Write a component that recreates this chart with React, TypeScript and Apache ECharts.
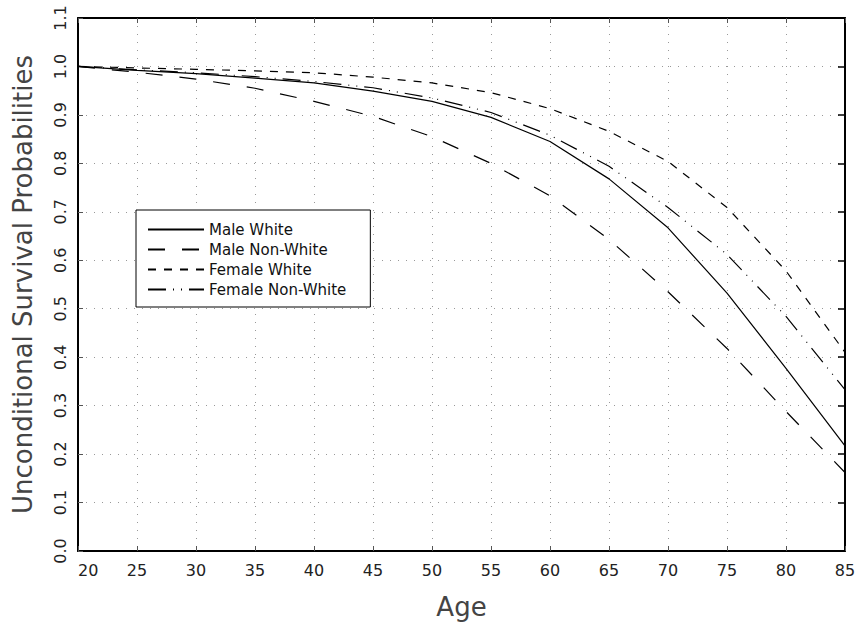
import React, { useEffect, useRef } from "react";
import * as echarts from "echarts";

const ages = [20, 25, 30, 35, 40, 45, 50, 55, 60, 65, 70, 75, 80, 85];
const maleWhite = [1.0, 0.992, 0.985, 0.976, 0.966, 0.949, 0.928, 0.895, 0.845, 0.768, 0.667, 0.532, 0.377, 0.217];
const maleNonWhite = [1.0, 0.988, 0.974, 0.955, 0.928, 0.897, 0.855, 0.8, 0.733, 0.643, 0.535, 0.418, 0.288, 0.162];
const femaleWhite = [1.0, 0.997, 0.994, 0.991, 0.987, 0.978, 0.966, 0.946, 0.913, 0.866, 0.804, 0.709, 0.578, 0.41];
const femaleNonWhite = [1.0, 0.993, 0.987, 0.979, 0.969, 0.956, 0.935, 0.905, 0.858, 0.794, 0.709, 0.612, 0.484, 0.333];
const seriesNames = ["Male White", "Male Non-White", "Female White", "Female Non-White"];

const FONT = "DejaVu Sans";

export default function App() {
  const ref = useRef<HTMLDivElement>(null);
  useEffect(() => {
    if (!ref.current) return;
    const chart = echarts.init(ref.current, undefined, { renderer: "svg" });
    const pair = (vals: number[]) => ages.map((a, i) => [a, vals[i]]);
    const dashes: any[] = ["solid", [17, 17], [8, 8], [18, 7, 1, 7, 1, 7]];
    const datas = [maleWhite, maleNonWhite, femaleWhite, femaleNonWhite];
    const axisLine = { show: true, onZero: false, lineStyle: { color: "#000", width: 2 } };
    const tickStyle = { show: true, inside: true, length: 5, lineStyle: { color: "#555", width: 1 } };
    chart.setOption({
      animation: false,
      backgroundColor: "#fff",
      textStyle: { fontFamily: FONT },
      grid: { left: 78, right: 15, top: 18, bottom: 76, containLabel: false, outerBoundsMode: "none" },
      legend: {
        orient: "vertical",
        left: 136,
        top: 210,
        data: seriesNames,
        backgroundColor: "#fff",
        borderColor: "#000",
        borderWidth: 1,
        borderRadius: 0,
        padding: [12, 24, 10, 11],
        itemWidth: 56,
        itemHeight: 14,
        itemGap: 5,
        itemStyle: { color: "rgba(0,0,0,0)", borderColor: "rgba(0,0,0,0)", borderWidth: 0 },
        textStyle: { fontFamily: FONT, fontSize: 15, color: "#111" },
      },
      xAxis: [
        {
          type: "value",
          min: 20,
          max: 85,
          interval: 5,
          name: "Age",
          nameLocation: "middle",
          nameGap: 43,
          nameTextStyle: { fontFamily: FONT, fontSize: 26, color: "#444" },
          axisLine,
          axisTick: tickStyle,
          axisLabel: { fontFamily: FONT, fontSize: 16, color: "#222", margin: 11, alignMinLabel: "left" },
          splitLine: { show: true, lineStyle: { color: "#999", width: 1, type: [1, 7] } },
        },
        {
          type: "value",
          position: "top",
          min: 20,
          max: 85,
          interval: 5,
          axisLine,
          axisTick: tickStyle,
          axisLabel: { show: false },
          splitLine: { show: false },
        },
      ],
      yAxis: [
        {
          type: "value",
          min: 0,
          max: 1.1,
          interval: 0.1,
          name: "Unconditional Survival Probabilities",
          nameLocation: "middle",
          nameRotate: 90,
          nameGap: 42,
          nameTextStyle: { fontFamily: FONT, fontSize: 26, color: "#444" },
          axisLine,
          axisTick: tickStyle,
          axisLabel: {
            fontFamily: FONT,
            fontSize: 16,
            color: "#222",
            rotate: 90,
            margin: 10,
            formatter: (v: number) => v.toFixed(1),
          },
          splitLine: { show: true, lineStyle: { color: "#999", width: 1, type: [1, 7] } },
        },
        {
          type: "value",
          position: "right",
          min: 0,
          max: 1.1,
          interval: 0.1,
          axisLine,
          axisTick: { ...tickStyle, length: 7, lineStyle: { color: "#000", width: 1.5 } },
          axisLabel: { show: false },
          splitLine: { show: false },
        },
      ],
      series: seriesNames.map((name, i) => ({
        name,
        type: "line",
        data: pair(datas[i]),
        symbol: "none",
        xAxisIndex: 0,
        yAxisIndex: 0,
        lineStyle: { color: "#000", width: 1.2, type: dashes[i] },
        itemStyle: { color: "#000" },
      })),
    });
    return () => chart.dispose();
  }, []);
  return <div ref={ref} style={{ width: 860, height: 627, position: "absolute", left: 0, top: 0 }} />;
}
